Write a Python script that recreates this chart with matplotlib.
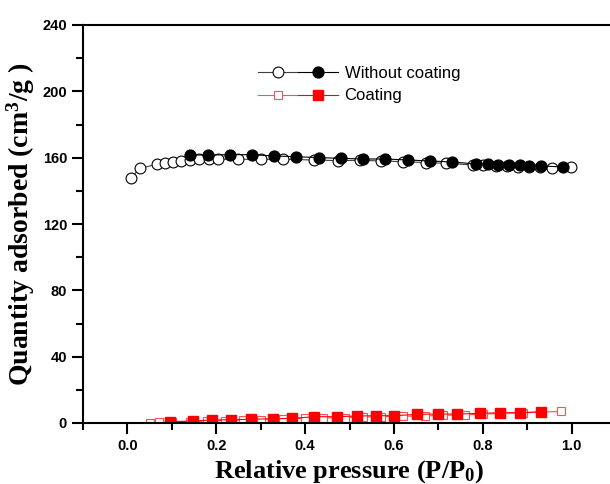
import numpy as np
import matplotlib.pyplot as plt
from matplotlib.legend_handler import HandlerTuple

# Without coating - adsorption (open) and desorption (filled)
p_ads = [0.008, 0.029, 0.066, 0.085, 0.102, 0.121, 0.14, 0.162, 0.183, 0.203, 0.25,
         0.30, 0.351, 0.421, 0.474, 0.523, 0.571, 0.62, 0.673, 0.718, 0.778, 0.80,
         0.83, 0.855, 0.88, 0.905, 0.93, 0.955, 0.999]
q_ads = [148.0, 153.6, 156.0, 156.6, 157.2, 158.0, 158.5, 159.0, 159.0, 159.0, 159.0,
         159.0, 159.0, 158.6, 158.2, 158.4, 158.0, 157.6, 157.0, 156.6, 155.6, 155.4,
         155.0, 154.8, 154.6, 154.4, 154.2, 154.0, 154.2]
p_des = [0.14, 0.181, 0.23, 0.28, 0.331, 0.38, 0.431, 0.481, 0.53, 0.581, 0.631,
         0.682, 0.731, 0.784, 0.811, 0.834, 0.859, 0.883, 0.905, 0.932, 0.98]
q_des = [161.6, 161.6, 161.8, 161.8, 161.0, 160.6, 160.0, 159.6, 159.2, 159.2, 158.6,
         158.0, 157.4, 156.2, 156.0, 155.8, 155.6, 155.4, 155.2, 155.0, 154.4]

# Coating - adsorption (open) and desorption (filled)
c_p_ads = [0.05, 0.07, 0.10, 0.14, 0.18, 0.22, 0.26, 0.30, 0.35, 0.40, 0.44, 0.49,
           0.53, 0.57, 0.62, 0.67, 0.71, 0.76, 0.80, 0.84, 0.89, 0.93, 0.977]
c_q_ads = [0.2, 0.4, 0.6, 0.9, 1.2, 1.5, 1.8, 2.0, 2.4, 2.8, 3.0, 3.3,
           3.6, 3.8, 4.0, 4.3, 4.6, 4.9, 5.3, 5.8, 6.2, 6.5, 7.0]
c_p_des = [0.095, 0.147, 0.19, 0.234, 0.279, 0.327, 0.371, 0.421, 0.471, 0.516,
           0.56, 0.601, 0.652, 0.699, 0.742, 0.793, 0.838, 0.884, 0.932]
c_q_des = [0.8, 1.2, 1.8, 2.0, 2.2, 2.6, 2.8, 3.8, 3.8, 4.2,
           4.4, 4.4, 5.2, 5.4, 5.4, 5.8, 6.2, 6.2, 6.8]

plt.rcParams['mathtext.fontset'] = 'custom'
plt.rcParams['mathtext.rm'] = 'Liberation Serif:bold'
plt.rcParams['mathtext.it'] = 'Liberation Serif:bold'
plt.rcParams['mathtext.bf'] = 'Liberation Serif:bold'

fig = plt.figure(figsize=(6.1, 4.84), dpi=100)
ax = fig.add_axes([83 / 610, 61 / 484, 533 / 610, 398 / 484])

l1, = ax.plot(p_ads, q_ads, '-', color='#404040', lw=0.8, marker='o', ms=7.8,
              mfc='white', mec='black', mew=0.8)
l2, = ax.plot(p_des, q_des, '-', color='black', lw=0.8, marker='o', ms=7.8,
              mfc='black', mec='black')
l3, = ax.plot(c_p_ads, c_q_ads, '-', color='#ff5050', lw=0.8, marker='s', ms=6,
              mfc='white', mec='#ff5050', mew=0.8)
l4, = ax.plot(c_p_des, c_q_des, '-', color='red', lw=0.8, marker='s', ms=6.5,
              mfc='red', mec='red')

ax.set_xlim(-0.1, 1.1)
ax.set_ylim(0, 240)
ax.set_xticks(np.arange(0, 1.01, 0.2))
ax.set_xticks(np.arange(-0.1, 1.1, 0.1), minor=True)
ax.set_yticks(np.arange(0, 241, 40))
ax.set_yticks(np.arange(0, 241, 20), minor=True)

ax.tick_params(which='both', direction='out', width=1.5, labelsize=10.5)
ax.tick_params(which='major', length=8)
ax.tick_params(which='minor', length=5)
for lab in ax.get_xticklabels() + ax.get_yticklabels():
    lab.set_fontweight('bold')
    lab.set_family('Liberation Sans')
for s in ax.spines.values():
    s.set_linewidth(1.5)

ax.set_xlabel(r'Relative pressure (P/P$_{\mathregular{0}}$)', fontsize=19,
              family='Liberation Serif', fontweight='bold', labelpad=4)
ax.set_ylabel(r'Quantity adsorbed (cm$^{3}$/g )', fontsize=20,
              family='Liberation Serif', fontweight='bold', labelpad=4)

ax.legend([(l1, l2), (l3, l4)], ['Without coating', 'Coating'],
          handler_map={tuple: HandlerTuple(ndivide=None, pad=0)},
          loc='upper left', bbox_to_anchor=(0.3, 0.935), frameon=False,
          prop={'family': 'Liberation Sans', 'size': 12}, handlelength=4.8,
          handletextpad=0.4, labelspacing=0.45)

fig.savefig('out.png', dpi=100)
